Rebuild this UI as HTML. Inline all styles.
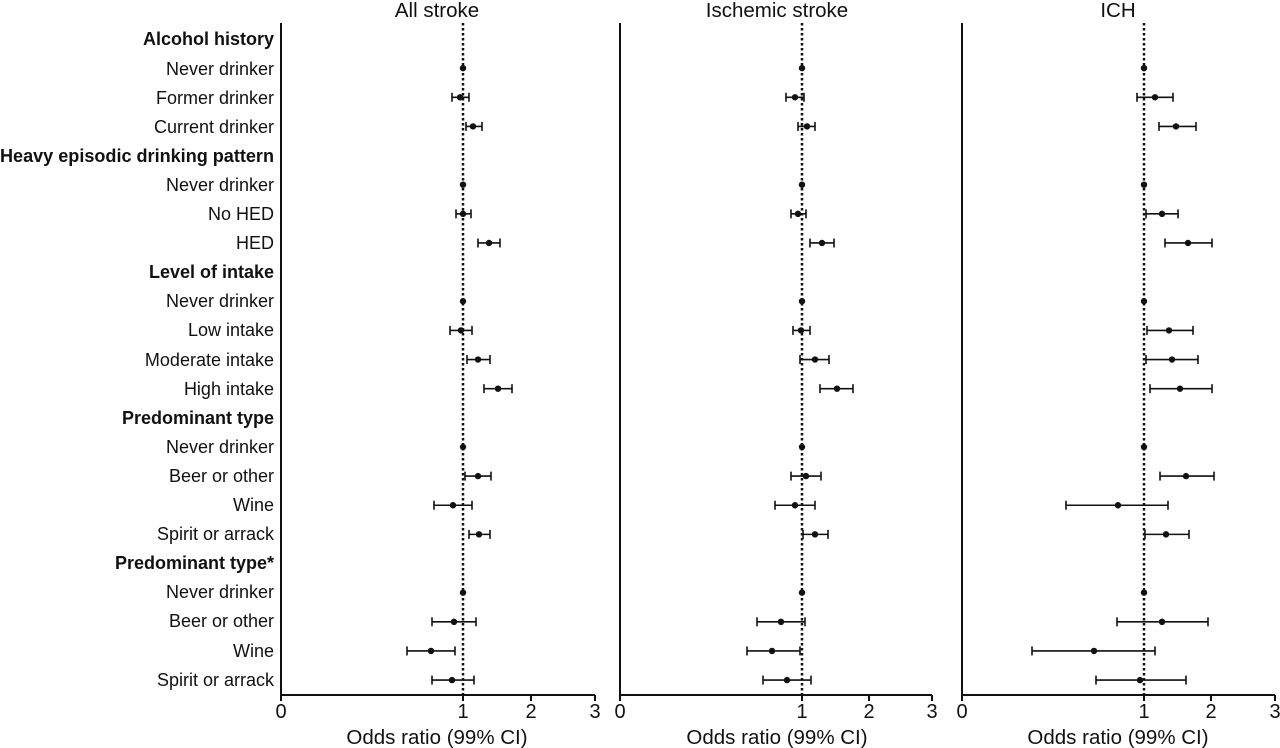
<!DOCTYPE html>
<html><head><meta charset="utf-8"><style>
body{margin:0;background:#fff;}
svg{display:block;font-family:"Liberation Sans",sans-serif;}
</style></head><body>
<svg id="s" width="1280" height="748" viewBox="0 0 1280 748">
<g font-size="18" text-anchor="end" fill="#111">
<text x="274" y="45" font-weight="bold">Alcohol history</text>
<text x="274" y="75">Never drinker</text>
<text x="274" y="104">Former drinker</text>
<text x="274" y="133">Current drinker</text>
<text x="274" y="162" font-weight="bold" textLength="274" lengthAdjust="spacingAndGlyphs">Heavy episodic drinking pattern</text>
<text x="274" y="191">Never drinker</text>
<text x="274" y="220">No HED</text>
<text x="274" y="249">HED</text>
<text x="274" y="278" font-weight="bold">Level of intake</text>
<text x="274" y="307">Never drinker</text>
<text x="274" y="336">Low intake</text>
<text x="274" y="366">Moderate intake</text>
<text x="274" y="395">High intake</text>
<text x="274" y="424" font-weight="bold">Predominant type</text>
<text x="274" y="453">Never drinker</text>
<text x="274" y="482">Beer or other</text>
<text x="274" y="511">Wine</text>
<text x="274" y="540">Spirit or arrack</text>
<text x="274" y="569" font-weight="bold">Predominant type*</text>
<text x="274" y="598">Never drinker</text>
<text x="274" y="627">Beer or other</text>
<text x="274" y="657">Wine</text>
<text x="274" y="686">Spirit or arrack</text>
</g>
<g font-size="20.5" text-anchor="middle" fill="#111">
<text x="437" y="17">All stroke</text>
<text x="777" y="17">Ischemic stroke</text>
<text x="1118" y="17">ICH</text>
<text x="437" y="744">Odds ratio (99% CI)</text>
<text x="777" y="744">Odds ratio (99% CI)</text>
<text x="1118" y="744">Odds ratio (99% CI)</text>
</g>
<g font-size="20" text-anchor="middle" fill="#111">
<text x="281" y="718">0</text><text x="463" y="718">1</text><text x="531" y="718">2</text><text x="595" y="718">3</text>
<text x="620" y="718">0</text><text x="802" y="718">1</text><text x="869" y="718">2</text><text x="932" y="718">3</text>
<text x="962" y="718">0</text><text x="1144" y="718">1</text><text x="1211" y="718">2</text><text x="1275" y="718">3</text>
</g>
<g id="d" stroke="#111" fill="#111"></g>
</svg>
<script>
var g=document.getElementById('d'),ns='http://www.w3.org/2000/svg';
function el(t,a){var e=document.createElementNS(ns,t);for(var k in a)e.setAttribute(k,a[k]);g.appendChild(e);}
var panels=[[281,463,531,595],[620,802,869,932],[962,1144,1211,1275]];
panels.forEach(function(p){
 el('line',{x1:p[0],y1:23,x2:p[0],y2:695,'stroke-width':2});
 el('line',{x1:p[0],y1:695,x2:p[3],y2:695,'stroke-width':2});
 p.forEach(function(x){el('line',{x1:x,y1:695,x2:x,y2:701,'stroke-width':2});});
 el('line',{x1:p[1],y1:23,x2:p[1],y2:695,'stroke-width':2.5,'stroke-dasharray':'2.5 2.5'});
});
var D=[
{1:[463,463,463],2:[452,460,469],3:[466,473,482],5:[463,463,463],6:[456,463,471],7:[478,489,500],9:[463,463,463],10:[450,461,472],11:[467,478,490],12:[484,498,512],14:[463,463,463],15:[465,478,491],16:[434,453,472],17:[469,479,490],19:[463,463,463],20:[432,454,476],21:[407,431,455],22:[432,452,474]},
{1:[802,802,802],2:[786,795,804],3:[798,807,815],5:[802,802,802],6:[791,798,806],7:[810,822,834],9:[802,802,802],10:[793,801,810],11:[800,815,829],12:[820,837,853],14:[802,802,802],15:[791,806,821],16:[775,795,815],17:[803,815,828],19:[802,802,802],20:[757,781,805],21:[747,772,800],22:[763,787,811]},
{1:[1144,1144,1144],2:[1137,1155,1173],3:[1159,1176,1196],5:[1144,1144,1144],6:[1146,1162,1178],7:[1165,1188,1212],9:[1144,1144,1144],10:[1147,1169,1193],11:[1146,1172,1198],12:[1150,1180,1212],14:[1144,1144,1144],15:[1160,1186,1214],16:[1066,1118,1168],17:[1145,1166,1189],19:[1144,1144,1144],20:[1117,1162,1208],21:[1032,1094,1155],22:[1096,1140,1186]}
];
D.forEach(function(P){for(var r in P){var v=P[r],y=39+r*29.14;
 if(v[0]!=v[2]){el('line',{x1:v[0],y1:y,x2:v[2],y2:y,'stroke-width':1.6});
 el('line',{x1:v[0],y1:y-4.5,x2:v[0],y2:y+4.5,'stroke-width':1.6});
 el('line',{x1:v[2],y1:y-4.5,x2:v[2],y2:y+4.5,'stroke-width':1.6});}
 el('circle',{cx:v[1],cy:y,r:3.2,stroke:'none'});}});
</script>
</body></html>
